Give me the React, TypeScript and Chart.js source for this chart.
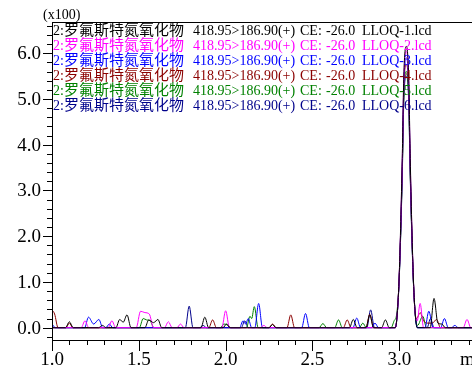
import React, { useEffect, useRef } from 'react';
import { Chart, registerables } from 'chart.js';

Chart.register(...registerables);

type Pt = [number, number];

// ---- text / labels ----
const fileNames = ['LLOQ-1.lcd', 'LLOQ-2.lcd', 'LLOQ-3.lcd', 'LLOQ-4.lcd', 'LLOQ-5.lcd', 'LLOQ-6.lcd'];
const lineColors = ['#000000', '#ff00ff', '#0000ff', '#8b0000', '#008000', '#00008b'];
const channelPrefix = '2:';
const compound = '罗氟斯特氮氧化物';
const transition = '418.95>186.90(+)';
const ceText = 'CE:';
const ceValue = '-26.0';
const yScaleNote = '(x100)';
const xUnit = 'min';

const xMajorTicks = [1.0, 1.5, 2.0, 2.5, 3.0];
const xTickLabels = ['1.0', '1.5', '2.0', '2.5', '3.0'];
const yMajorTicks = [0, 1, 2, 3, 4, 5, 6];
const yTickLabels = ['0.0', '1.0', '2.0', '3.0', '4.0', '5.0', '6.0'];

// ---- series (x: min, y: intensity x100) ----
const lloq1: Pt[] = [
  [1.0, 0], [1.078, 0], [1.1, 0.13], [1.122, 0],
  [1.268, 0], [1.29, 0.05], [1.312, 0],
  [1.368, 0], [1.39, 0.18], [1.41, 0.12], [1.432, 0.28], [1.455, 0],
  [1.535, 0], [1.557, 0.17], [1.585, 0.11], [1.61, 0.18], [1.632, 0],
  [1.858, 0], [1.88, 0.23], [1.902, 0],
  [1.985, 0], [2.005, 0.08], [2.025, 0],
  [2.25, 0], [2.27, 0.07], [2.29, 0],
  [2.713, 0], [2.735, 0.18], [2.757, 0],
  [2.808, 0], [2.83, 0.28], [2.852, 0],
  [2.898, 0], [2.92, 0.17], [2.942, 0],
  [2.977, 0], [2.988, 0.3], [3.0, 1.2], [3.017, 3.7], [3.026, 5.5], [3.04, 6.15], [3.054, 5.5], [3.063, 3.7], [3.08, 1.2], [3.092, 0.3], [3.103, 0],
  [3.178, 0], [3.2, 0.64], [3.222, 0.1], [3.245, 0.08], [3.265, 0],
  [3.43, 0],
];
const lloq2: Pt[] = [
  [1.0, 0], [1.168, 0], [1.19, 0.15], [1.212, 0],
  [1.323, 0], [1.345, 0.15], [1.367, 0],
  [1.485, 0], [1.51, 0.36], [1.535, 0.33], [1.56, 0.3], [1.585, 0],
  [1.648, 0], [1.67, 0.13], [1.692, 0],
  [1.72, 0], [1.74, 0.08], [1.76, 0],
  [1.978, 0], [2.0, 0.37], [2.022, 0],
  [2.2, 0], [2.22, 0.05], [2.24, 0],
  [2.977, 0], [2.988, 0.3], [3.0, 1.18], [3.017, 3.63], [3.026, 5.4], [3.04, 6.05], [3.054, 5.4], [3.063, 3.63], [3.08, 1.18], [3.092, 0.3], [3.103, 0.15], [3.12, 0.53], [3.14, 0],
  [3.368, 0], [3.39, 0.18], [3.412, 0], [3.43, 0],
];
const lloq3: Pt[] = [
  [1.0, 0.08], [1.02, 0], [1.188, 0], [1.21, 0.23], [1.24, 0.08], [1.27, 0.18], [1.292, 0],
  [1.31, 0], [1.33, 0.08], [1.35, 0],
  [2.08, 0], [2.1, 0.15], [2.115, 0.08], [2.13, 0.2], [2.15, 0], [2.168, 0], [2.19, 0.53], [2.212, 0],
  [2.438, 0], [2.46, 0.31], [2.482, 0],
  [2.733, 0], [2.755, 0.21], [2.777, 0],
  [2.84, 0], [2.86, 0.1], [2.88, 0],
  [2.977, 0], [2.988, 0.29], [3.0, 1.15], [3.017, 3.5], [3.026, 5.3], [3.04, 5.9], [3.054, 5.3], [3.063, 3.5], [3.08, 1.15], [3.092, 0.29], [3.105, 0],
  [3.148, 0], [3.17, 0.36], [3.195, 0], [3.238, 0], [3.26, 0.2], [3.282, 0],
  [3.3, 0], [3.32, 0.05], [3.34, 0], [3.43, 0],
];
const lloq4: Pt[] = [
  [1.0, 0.39], [1.015, 0.3], [1.035, 0], [1.08, 0], [1.1, 0.1], [1.12, 0],
  [1.903, 0], [1.925, 0.17], [1.947, 0],
  [2.25, 0], [2.27, 0.08], [2.29, 0],
  [2.353, 0], [2.375, 0.28], [2.397, 0],
  [2.678, 0], [2.7, 0.17], [2.722, 0],
  [2.808, 0], [2.83, 0.29], [2.852, 0],
  [2.977, 0], [2.988, 0.29], [3.0, 1.15], [3.017, 3.45], [3.026, 5.2], [3.04, 5.75], [3.054, 5.2], [3.063, 3.45], [3.08, 1.15], [3.092, 0.29], [3.1, 0.2], [3.12, 0.33], [3.14, 0.15], [3.165, 0.1], [3.19, 0.1], [3.215, 0.18], [3.237, 0],
  [3.43, 0],
];
const lloq5: Pt[] = [
  [1.0, 0], [1.503, 0], [1.525, 0.2], [1.545, 0.17], [1.565, 0.15], [1.587, 0],
  [1.97, 0], [1.99, 0.08], [2.01, 0.06], [2.03, 0],
  [2.12, 0], [2.14, 0.25], [2.15, 0.2], [2.165, 0.46], [2.187, 0],
  [2.538, 0], [2.56, 0.09], [2.582, 0],
  [2.628, 0], [2.65, 0.17], [2.672, 0],
  [2.77, 0], [2.79, 0.1], [2.81, 0],
  [2.953, 0], [2.97, 0.15], [2.985, 0.3], [3.0, 1.12], [3.017, 3.36], [3.026, 5.05], [3.04, 5.6], [3.054, 5.05], [3.063, 3.36], [3.08, 1.12], [3.092, 0.28], [3.105, 0.05], [3.135, 0.25], [3.157, 0],
  [3.43, 0],
];
const lloq6: Pt[] = [
  [1.0, 0], [1.768, 0], [1.79, 0.47], [1.812, 0],
  [1.85, 0], [1.87, 0.05], [1.89, 0],
  [2.09, 0], [2.11, 0.15], [2.13, 0],
  [2.813, 0], [2.835, 0.39], [2.857, 0],
  [2.977, 0], [2.988, 0.28], [3.0, 1.1], [3.017, 3.3], [3.026, 4.95], [3.04, 5.5], [3.054, 4.95], [3.063, 3.3], [3.08, 1.1], [3.092, 0.28], [3.105, 0],
  [3.16, 0], [3.18, 0.2], [3.2, 0], [3.43, 0],
];
const allSeries = [lloq1, lloq2, lloq3, lloq4, lloq5, lloq6];

const X_MIN = 1.0;
const X_MAX = 3.4187;
const Y_MIN = -0.269;
const Y_MAX = 6.682;

const SERIF = "'Liberation Serif', 'Times New Roman', serif";
const CJK = "'Noto Sans CJK SC', sans-serif";

const chromPlugin = {
  id: 'chromDecor',
  afterDraw(chart: any) {
    const { ctx, chartArea: a, scales } = chart;
    const xs = scales.x;
    const ys = scales.y;
    ctx.save();
    ctx.strokeStyle = '#000';
    ctx.lineWidth = 1;
    ctx.beginPath();
    // frame: top line, y axis, x axis
    ctx.moveTo(a.left, a.top + 0.5);
    ctx.lineTo(a.right, a.top + 0.5);
    ctx.moveTo(a.left + 0.5, a.top);
    ctx.lineTo(a.left + 0.5, a.bottom + 1);
    ctx.moveTo(a.left, a.bottom + 0.5);
    ctx.lineTo(a.right, a.bottom + 0.5);
    // x ticks
    for (let i = 0; i <= 25; i++) {
      const v = X_MIN + i * 0.1;
      if (v > X_MAX) break;
      const px = Math.round(xs.getPixelForValue(v)) + 0.5;
      const major = i % 5 === 0;
      ctx.moveTo(px, a.bottom + 1);
      ctx.lineTo(px, a.bottom + (major ? 11 : 5));
    }
    // y ticks
    for (let i = -1; i <= 33; i++) {
      const v = i * 0.2;
      if (v < Y_MIN || v > Y_MAX) continue;
      const py = Math.round(ys.getPixelForValue(v)) + 0.5;
      const major = i % 5 === 0;
      ctx.moveTo(a.left, py);
      ctx.lineTo(a.left - (major ? 9 : 5), py);
    }
    ctx.stroke();

    ctx.fillStyle = '#000';
    ctx.font = `19px ${SERIF}`;
    ctx.textAlign = 'center';
    ctx.textBaseline = 'alphabetic';
    xMajorTicks.forEach((v, i) => {
      ctx.fillText(xTickLabels[i], xs.getPixelForValue(v), a.bottom + 25);
    });
    ctx.textAlign = 'left';
    ctx.fillText(xUnit, 460, a.bottom + 25);
    ctx.textAlign = 'right';
    ctx.textBaseline = 'middle';
    yMajorTicks.forEach((v, i) => {
      ctx.fillText(yTickLabels[i], a.left - 11, ys.getPixelForValue(v) + 1);
    });
    ctx.font = `14px ${SERIF}`;
    ctx.textAlign = 'left';
    ctx.textBaseline = 'alphabetic';
    ctx.fillText(yScaleNote, 43, 19);

    // legend rows
    fileNames.forEach((name, i) => {
      const base = 35 + i * 15;
      ctx.fillStyle = lineColors[i];
      ctx.font = `14px ${SERIF}`;
      ctx.fillText(channelPrefix, 53, base);
      ctx.font = `15px ${CJK}`;
      ctx.fillText(compound, 64, base);
      ctx.font = `14px ${SERIF}`;
      ctx.fillText(transition, 193, base);
      ctx.fillText(ceText, 300, base);
      ctx.fillText(ceValue, 326, base);
      ctx.fillText(name, 362, base);
    });
    ctx.restore();
  },
};

export default function App() {
  const ref = useRef<HTMLCanvasElement | null>(null);
  useEffect(() => {
    if (!ref.current) return;
    const chart = new Chart(ref.current, {
      type: 'line',
      data: {
        datasets: allSeries.map((s, i) => ({
          label: fileNames[i],
          data: s.map(([x, y]) => ({ x, y })),
          borderColor: lineColors[i],
          backgroundColor: lineColors[i],
          borderWidth: 1,
          pointRadius: 0,
          fill: false,
          cubicInterpolationMode: 'monotone' as const,
        })),
      },
      options: {
        responsive: false,
        animation: false,
        events: [],
        layout: { padding: { left: 52, top: 22, right: 0, bottom: 27 } },
        plugins: { legend: { display: false }, tooltip: { enabled: false } },
        scales: {
          x: { type: 'linear', display: false, min: X_MIN, max: X_MAX },
          y: { type: 'linear', display: false, min: Y_MIN, max: Y_MAX },
        },
      },
      plugins: [chromPlugin],
    });
    return () => chart.destroy();
  }, []);
  return (
    <div style={{ position: 'absolute', left: 0, top: 0, width: 472, height: 367, background: '#fff' }}>
      <canvas ref={ref} width={472} height={367} style={{ display: 'block' }} />
    </div>
  );
}
